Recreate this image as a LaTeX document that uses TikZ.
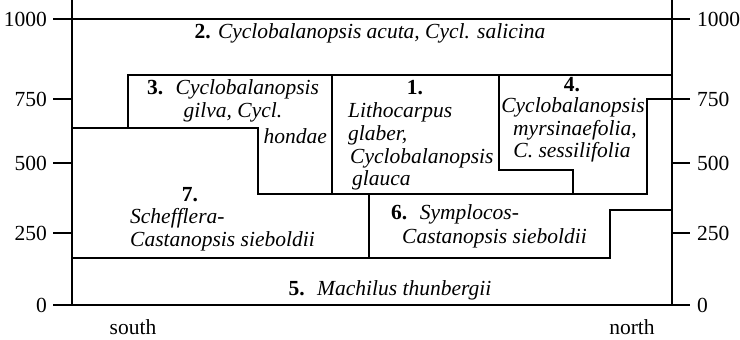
\documentclass[tikz,border=0pt]{standalone}
\usepackage{fontspec}
\setmainfont{Liberation Serif}
\begin{document}
\begin{tikzpicture}[x=1pt,y=-1pt,
  thin line/.style={line width=1.2pt},
  thick line/.style={line width=2.8pt},
  lbl/.style={inner sep=0pt,font=\fontsize{21.5}{24}\selectfont}]
\useasboundingbox (0,0) rectangle (740,340);
% axes
\draw[thin line] (72,0) -- (72,305);
\draw[thin line] (672,0) -- (672,305);
\draw[thin line] (53,19) -- (690,19);
\draw[thin line] (53,305) -- (690,305);
\foreach \yy in {99,163,233}{
  \draw[thin line] (53,\yy) -- (72,\yy);
  \draw[thin line] (672,\yy) -- (690,\yy);
}
% region boundaries
\draw[thin line] (128,128) -- (128,75) -- (672,75);
\draw[thin line] (332,75) -- (332,194);
\draw[thin line] (499,75) -- (499,170) -- (573,170) -- (573,194);
\draw[thin line] (369,194) -- (369,258);
\draw[thin line] (72,258) -- (610,258) -- (610,210) -- (672,210);
\draw[thick line] (72,128) -- (258,128) -- (258,194) -- (647,194) -- (647,99) -- (672,99);
% axis labels
\foreach \v/\yy in {1000/19,750/99,500/163,250/233,0/305}{
  \node[lbl,anchor=east] (L\v) at (47,\yy) {\v};
  \node[lbl,anchor=west] (R\v) at (697,\yy) {\v};
}
\node[lbl] (south) at (133,327) {south};
\node[lbl] (north) at (632,327) {north};
% region labels
\node[lbl] (t2) at (370,33) {\textbf{2.} \textit{Cyclobalanopsis acuta, Cycl. salicina}};
\node[lbl] (t3a) at (233,89) {\textbf{3.}~ \textit{Cyclobalanopsis}};
\node[lbl] (t3b) at (233,112) {\textit{gilva, Cycl.}};
\node[lbl,anchor=east] (t3c) at (327,136) {\textit{hondae}};
\node[lbl] (t1a) at (415,88) {\textbf{1.}};
\node[lbl,anchor=west] (t1b) at (348,112) {\textit{Lithocarpus}};
\node[lbl,anchor=west] (t1c) at (348,135) {\textit{glaber,}};
\node[lbl,anchor=west] (t1d) at (350,158) {\textit{Cyclobalanopsis}};
\node[lbl,anchor=west] (t1e) at (352,180) {\textit{glauca}};
\node[lbl] (t4a) at (572,85) {\textbf{4.}};
\node[lbl] (t4b) at (573,107) {\textit{Cyclobalanopsis}};
\node[lbl] (t4c) at (575,130) {\textit{myrsinaefolia,}};
\node[lbl] (t4d) at (572,152) {\textit{C. sessilifolia}};
\node[lbl] (t7a) at (190,195) {\textbf{7.}};
\node[lbl,anchor=west] (t7b) at (130,218) {\textit{Schefflera-}};
\node[lbl,anchor=west] (t7c) at (130,241) {\textit{Castanopsis sieboldii}};
\node[lbl,anchor=west] (t6a) at (391,214) {\textbf{6.}~ \textit{Symplocos-}};
\node[lbl,anchor=west] (t6b) at (402,238) {\textit{Castanopsis sieboldii}};
\node[lbl] (t5) at (390,290) {\textbf{5.}~ \textit{Machilus thunbergii}};
\end{tikzpicture}
\end{document}
